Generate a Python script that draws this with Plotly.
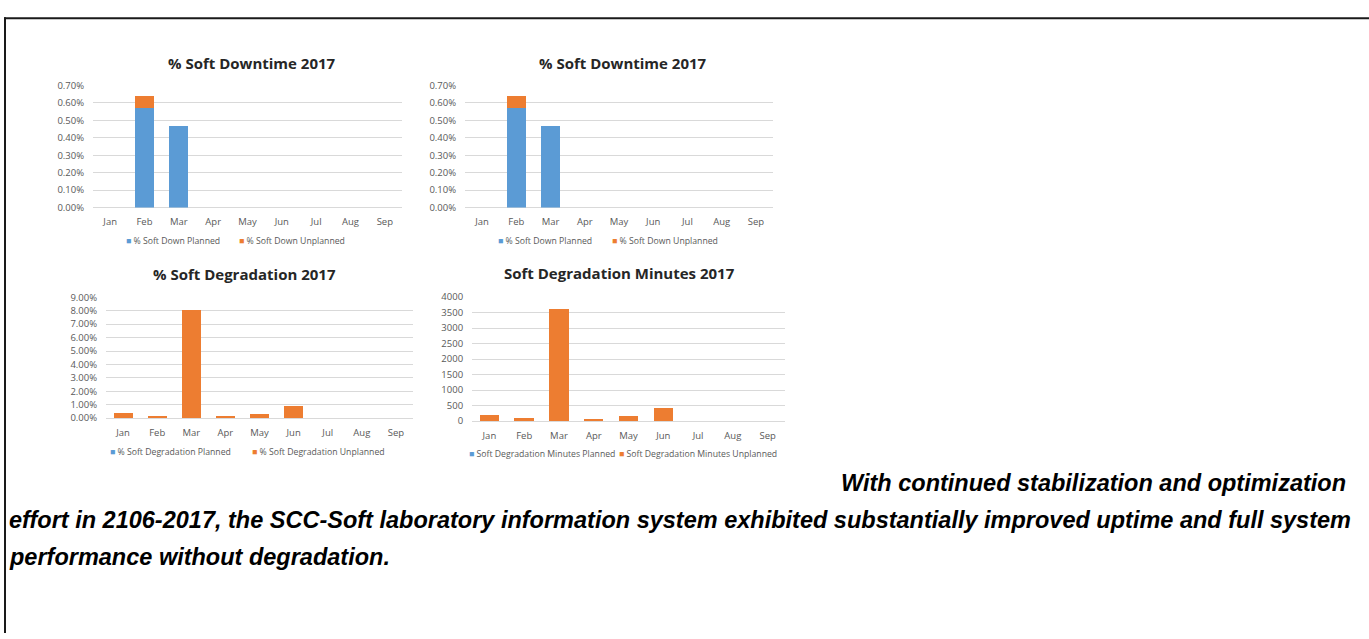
import plotly.graph_objects as go

W, H = 1369, 639

months = ["Jan", "Feb", "Mar", "Apr", "May", "Jun", "Jul", "Aug", "Sep"]

# % Soft Downtime 2017 (fractions, shown as %)
down_planned = [0, 0.0057, 0.0047, 0, 0, 0, 0, 0, 0]
down_unplanned = [0, 0.0007, 0, 0, 0, 0, 0, 0, 0]
down_names = ["% Soft Down Planned", "% Soft Down Unplanned"]

# % Soft Degradation 2017
degr_planned = [0, 0, 0, 0, 0, 0, 0, 0, 0]
degr_unplanned = [0.0039, 0.0017, 0.0808, 0.0012, 0.0034, 0.0090, 0, 0, 0]
degr_names = ["% Soft Degradation Planned", "% Soft Degradation Unplanned"]

# Soft Degradation Minutes 2017
mins_planned = [0, 0, 0, 0, 0, 0, 0, 0, 0]
mins_unplanned = [200, 84, 3610, 80, 180, 410, 0, 0, 0]
mins_names = ["Soft Degradation Minutes Planned", "Soft Degradation Minutes Unplanned"]

titles = ["% Soft Downtime 2017", "% Soft Downtime 2017",
          "% Soft Degradation 2017", "Soft Degradation Minutes 2017"]

paragraph = [
    "With continued stabilization and optimization",
    "effort in 2106-2017, the SCC-Soft laboratory information system exhibited substantially improved uptime and full system",
    "performance without degradation.",
]

BLUE = "#5B9BD5"
ORANGE = "#ED7D31"
GRID = "#D9D9D9"
TICK = "#595959"
FONT = "Open Sans"


def px(x):
    return x / W


def py(y):
    return 1 - y / H


panels = [
    dict(data=(down_planned, down_unplanned), names=down_names, box=(93, 402, 80, 204.7),
         yr=[0, 0.007], dt=0.001, fmt=".2%", title=(252, 57), leg_y=239, leg_x=(124, 237)),
    dict(data=(down_planned, down_unplanned), names=down_names, box=(465, 773, 80, 204.7),
         yr=[0, 0.007], dt=0.001, fmt=".2%", title=(623, 57), leg_y=239, leg_x=(496, 610)),
    dict(data=(degr_planned, degr_unplanned), names=degr_names, box=(106, 413, 296.3, 419.7),
         yr=[0, 0.09], dt=0.01, fmt=".2%", title=(244, 273), leg_y=454, leg_x=(108, 250)),
    dict(data=(mins_planned, mins_unplanned), names=mins_names, box=(472, 785, 296, 422.7),
         yr=[0, 4000], dt=500, fmt="d", title=(619, 272), leg_y=456, leg_x=(467, 617)),
]

fig = go.Figure()
annotations = []
layout = {}

for i, p in enumerate(panels, start=1):
    xa = "x" if i == 1 else f"x{i}"
    ya = "y" if i == 1 else f"y{i}"
    for vals, name, col in zip(p["data"], p["names"], (BLUE, ORANGE)):
        fig.add_trace(go.Bar(x=months, y=vals, name=name, marker_color=col,
                             marker_line_width=0, width=0.56, xaxis=xa, yaxis=ya,
                             showlegend=False))
    x0, x1, yt, yb = p["box"]
    layout[f"xaxis{'' if i == 1 else i}"] = dict(
        domain=[px(x0), px(x1)], anchor=ya, type="category",
        range=[-0.5, 8.5], showgrid=False, showline=False, zeroline=False,
        ticks="outside", ticklen=5, tickcolor="rgba(0,0,0,0)",
        tickfont=dict(family=FONT, size=9.5, color=TICK), fixedrange=True)
    layout[f"yaxis{'' if i == 1 else i}"] = dict(
        domain=[py(yb), py(yt)], anchor=xa, range=p["yr"], dtick=p["dt"],
        tickformat=p["fmt"], showgrid=True, gridcolor=GRID, gridwidth=1,
        zeroline=True, zerolinecolor=GRID, zerolinewidth=1, showline=False,
        ticks="outside", ticklen=6, tickcolor="rgba(0,0,0,0)",
        tickfont=dict(family=FONT, size=9.5, color=TICK), fixedrange=True)
    tx, ty = p["title"]
    annotations.append(dict(text=f"<b>{titles[i-1]}</b>", x=px(tx), y=py(ty),
                            xref="paper", yref="paper", xanchor="center", yanchor="middle",
                            showarrow=False, font=dict(family=FONT, size=15, color="#262626")))
    for name, col, lx in zip(p["names"], (BLUE, ORANGE), p["leg_x"]):
        annotations.append(dict(text=f'<span style="color:{col}">■</span> {name}',
                                x=px(lx), y=py(p["leg_y"]), xref="paper", yref="paper",
                                xanchor="left", yanchor="middle", showarrow=False,
                                font=dict(family=FONT, size=8.7, color=TICK)))

PFONT = dict(family="Liberation Sans", size=23.5, color="#000000")
annotations.append(dict(text=f"<b><i>{paragraph[0]}</i></b>", x=px(1348), y=py(486),
                        xref="paper", yref="paper", xanchor="right", yanchor="middle",
                        showarrow=False, font=PFONT))
annotations.append(dict(text=f"<b><i>{paragraph[1]}</i></b>", x=px(7), y=py(524),
                        xref="paper", yref="paper", xanchor="left", yanchor="middle",
                        showarrow=False, font=PFONT))
annotations.append(dict(text=f"<b><i>{paragraph[2]}</i></b>", x=px(7), y=py(561),
                        xref="paper", yref="paper", xanchor="left", yanchor="middle",
                        showarrow=False, font=PFONT))

shapes = [
    dict(type="line", xref="paper", yref="paper", x0=px(4), x1=1, y0=py(11.5), y1=py(11.5),
         line=dict(color="#1a1a1a", width=2)),
    dict(type="line", xref="paper", yref="paper", x0=px(5), x1=px(5), y0=py(10.5), y1=0,
         line=dict(color="#1a1a1a", width=2)),
]

fig.update_layout(
    width=W, height=H, autosize=False,
    margin=dict(l=0, r=0, t=0, b=0, pad=0),
    paper_bgcolor="white", plot_bgcolor="white",
    barmode="stack", bargap=0.44,
    annotations=annotations, shapes=shapes, showlegend=False,
    **layout,
)

fig.write_html(
    "out.html", config={"displayModeBar": False},
    post_script=("document.body.style.margin='0';document.body.style.overflow='hidden';"
                 "var gd=document.getElementById('{plot_id}');"
                 "gd.style.position='fixed';gd.style.top='0px';gd.style.left='0px';"),
)
